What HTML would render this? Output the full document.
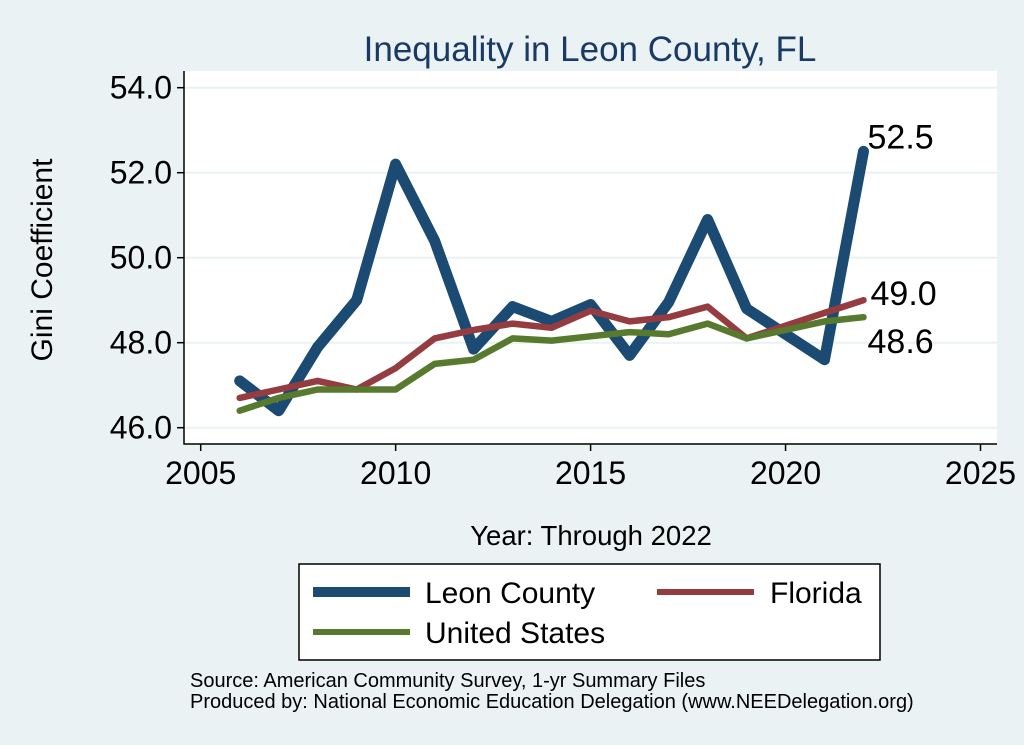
<!DOCTYPE html>
<html><head><meta charset="utf-8"><style>
body{margin:0;background:#eaf2f3;}
svg{display:block;font-family:"Liberation Sans",Arial,sans-serif;}
</style></head><body>
<svg id="chart" width="1024" height="745" viewBox="0 0 1024 745">
<rect x="0" y="0" width="1024" height="745" fill="#eaf2f3"/>
<text x="590" y="61" text-anchor="middle" font-size="35" fill="#1a3a66">Inequality in Leon County, FL</text>
<rect x="184" y="71" width="813" height="373" fill="#fff"/>
<g id="grid"></g>
<g id="axes"></g>
<g id="series"></g>
<g id="labels"></g>
<text transform="translate(52,260) rotate(-90)" text-anchor="middle" font-size="30" fill="#000">Gini Coefficient</text>
<text x="591" y="545" text-anchor="middle" font-size="27.5" fill="#000">Year: Through 2022</text>
<g>
<rect x="299" y="564" width="581" height="96" fill="#fff" stroke="#000" stroke-width="1.5"/>
<line x1="313" y1="592" x2="410" y2="592" stroke="#1b4a72" stroke-width="10"/>
<text x="425" y="603" font-size="30">Leon County</text>
<line x1="657" y1="592" x2="754" y2="592" stroke="#943c40" stroke-width="6"/>
<text x="770" y="603" font-size="30">Florida</text>
<line x1="313" y1="632" x2="410" y2="632" stroke="#587a2e" stroke-width="6"/>
<text x="425" y="643" font-size="30">United States</text>
</g>
<text x="190" y="687" font-size="20">Source: American Community Survey, 1-yr Summary Files</text>
<text x="190" y="708" font-size="20">Produced by: National Economic Education Delegation (www.NEEDelegation.org)</text>
</svg>
<script>
const years=[2006,2007,2008,2009,2010,2011,2012,2013,2014,2015,2016,2017,2018,2019,2020,2021,2022];
const leon=[47.1,46.4,47.9,49.0,52.2,50.4,47.85,48.85,48.5,48.9,47.7,48.95,50.9,48.8,48.2,47.6,52.5];
const florida=[46.7,46.9,47.1,46.9,47.4,48.1,48.3,48.45,48.35,48.75,48.5,48.6,48.85,48.1,48.4,48.7,49.0];
const us=[46.4,46.7,46.9,46.9,46.9,47.5,47.6,48.1,48.05,48.15,48.25,48.2,48.45,48.1,48.3,48.5,48.6];
const yTicks=[46,48,50,52,54];
const xTicks=[2005,2010,2015,2020,2025];
const endLabels=["52.5","49.0","48.6"];
const NS="http://www.w3.org/2000/svg";
const xs=v=>200.7+(v-2005)*(980.5-200.7)/20;
const ys=v=>427.7-(v-46)*(427.7-87.7)/8;
function mk(tag,attrs,parent){const e=document.createElementNS(NS,tag);for(const k in attrs)e.setAttribute(k,attrs[k]);document.getElementById(parent).appendChild(e);return e;}
yTicks.forEach(t=>{
 const g=mk('line',{x1:184,x2:997,y1:ys(t),y2:ys(t),stroke:'#eaf2f3','stroke-width':2},'grid');
 
 
 const tk=mk('line',{x1:177,x2:184,y1:ys(t),y2:ys(t),stroke:'#000','stroke-width':1.5},'axes');
 
 
 const tx=mk('text',{x:172,y:ys(t)+11,'text-anchor':'end','font-size':32},'axes');
 tx.textContent=t.toFixed(1);
 
 
});
xTicks.forEach(t=>{
 const tk=mk('line',{x1:xs(t),x2:xs(t),y1:444,y2:451,stroke:'#000','stroke-width':1.5},'axes');
 
 
 const tx=mk('text',{x:xs(t),y:484,'text-anchor':'middle','font-size':32},'axes');
 tx.textContent=t;
 
 
});
const ax1=mk('line',{x1:184,x2:184,y1:71,y2:444.5,stroke:'#000','stroke-width':1.5},'axes');


const ax2=mk('line',{x1:183.5,x2:997,y1:444,y2:444,stroke:'#000','stroke-width':1.5},'axes');


const series=[[leon,'#1b4a72',11,'line-leon-county'],[florida,'#943c40',6.5,'line-florida'],[us,'#587a2e',6.5,'line-united-states']];
series.forEach(s=>{
 const d=years.map((y,i)=>(i?'L':'M')+xs(y).toFixed(1)+','+ys(s[0][i]).toFixed(1)).join(' ');
 const p=mk('path',{d:d,fill:'none',stroke:s[1],'stroke-width':s[2],'stroke-linejoin':'round','stroke-linecap':'round'},'series');
 
 
});
const lastX=xs(years[years.length-1]);
const offs=[[4,-3],[7,5],[4,36]];
[leon,florida,us].forEach((arr,i)=>{
 const v=arr[arr.length-1];
 const t=mk('text',{x:lastX+offs[i][0],y:ys(v)+offs[i][1],'font-size':34},'labels');
 t.textContent=endLabels[i];
 
 
});
</script>
</body></html>
